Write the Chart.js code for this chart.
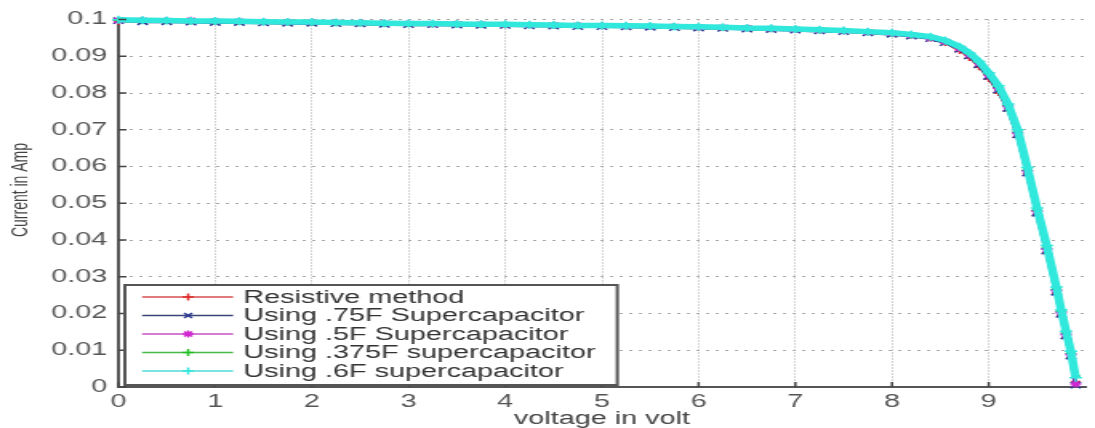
<!DOCTYPE html>
<html>
<head>
<meta charset="utf-8">
<script src="https://cdn.jsdelivr.net/npm/chart.js@4/dist/chart.umd.min.js"></script>
<style>
html,body{margin:0;padding:0;background:#fff;overflow:hidden;}
</style>
</head>
<body>
<canvas id="c" width="684" height="428" style="display:block;width:1095px;height:428px;"></canvas>
<script>
// ---- data ----
const voltage = [0, 0.25, 0.5, 0.75, 1, 1.25, 1.5, 1.75, 2, 2.25, 2.5, 2.75, 3, 3.25, 3.5, 3.75, 4, 4.25, 4.5, 4.75, 5, 5.25, 5.5, 5.75, 6, 6.25, 6.5, 6.75, 7, 7.25, 7.5, 7.75, 8, 8.2, 8.4, 8.55, 8.7, 8.8, 8.9, 9.0, 9.1, 9.2, 9.3, 9.4, 9.5, 9.6, 9.7, 9.75, 9.8, 9.85, 9.9];
const resistive = [0.0993, 0.0997, 0.0996, 0.0995, 0.0995, 0.0994, 0.0993, 0.0992, 0.0992, 0.0991, 0.0990, 0.0989, 0.0988, 0.0988, 0.0987, 0.0986, 0.0986, 0.0985, 0.0984, 0.0983, 0.0983, 0.0982, 0.0981, 0.0980, 0.0979, 0.0978, 0.0976, 0.0975, 0.0973, 0.0971, 0.0969, 0.0966, 0.0962, 0.0956, 0.0948, 0.0936, 0.0914, 0.0895, 0.0870, 0.0838, 0.0800, 0.0752, 0.0680, 0.0580, 0.0470, 0.0365, 0.0255, 0.0195, 0.0135, 0.0080, 0.0015];
const cap075 = [0.0997, 0.0994, 0.0994, 0.0993, 0.0992, 0.0992, 0.0991, 0.0990, 0.0990, 0.0989, 0.0988, 0.0987, 0.0986, 0.0986, 0.0985, 0.0984, 0.0984, 0.0983, 0.0982, 0.0981, 0.0981, 0.0980, 0.0979, 0.0978, 0.0977, 0.0976, 0.0974, 0.0973, 0.0971, 0.0969, 0.0967, 0.0964, 0.0960, 0.0955, 0.0948, 0.0937, 0.0919, 0.0901, 0.0877, 0.0845, 0.0808, 0.0758, 0.0686, 0.0582, 0.0473, 0.0370, 0.0258, 0.0198, 0.0139, 0.0084, 0.0005];
const cap05 = [0.0997, 0.0998, 0.0997, 0.0998, 0.0996, 0.0995, 0.0994, 0.0993, 0.0993, 0.0992, 0.0991, 0.0990, 0.0989, 0.0988, 0.0988, 0.0987, 0.0986, 0.0985, 0.0985, 0.0984, 0.0983, 0.0982, 0.0981, 0.0981, 0.0979, 0.0978, 0.0977, 0.0975, 0.0973, 0.0971, 0.0969, 0.0966, 0.0962, 0.0957, 0.0950, 0.0940, 0.0922, 0.0904, 0.0881, 0.0849, 0.0813, 0.0763, 0.0690, 0.0588, 0.0478, 0.0375, 0.0262, 0.0202, 0.0142, 0.0088, 0.0008];
const cap0375 = [0.0998, 0.0997, 0.0996, 0.0995, 0.0995, 0.0994, 0.0993, 0.0992, 0.0991, 0.0991, 0.0990, 0.0989, 0.0988, 0.0987, 0.0987, 0.0986, 0.0985, 0.0985, 0.0984, 0.0983, 0.0982, 0.0982, 0.0981, 0.0980, 0.0979, 0.0977, 0.0976, 0.0974, 0.0972, 0.0971, 0.0969, 0.0966, 0.0962, 0.0957, 0.0951, 0.0941, 0.0923, 0.0906, 0.0883, 0.0852, 0.0817, 0.0767, 0.0696, 0.0592, 0.0482, 0.0380, 0.0268, 0.0206, 0.0148, 0.0093, 0.0030];
const cap06 = [0.0999, 0.0998, 0.0997, 0.0996, 0.0996, 0.0995, 0.0994, 0.0993, 0.0993, 0.0992, 0.0991, 0.0990, 0.0989, 0.0989, 0.0988, 0.0987, 0.0987, 0.0986, 0.0985, 0.0984, 0.0984, 0.0983, 0.0982, 0.0981, 0.0980, 0.0979, 0.0977, 0.0976, 0.0974, 0.0972, 0.0970, 0.0967, 0.0964, 0.0959, 0.0953, 0.0943, 0.0926, 0.0909, 0.0886, 0.0855, 0.0820, 0.0770, 0.0700, 0.0597, 0.0487, 0.0385, 0.0272, 0.0210, 0.0152, 0.0097, 0.0025];
const seriesLabels = ['Resistive method', 'Using .75F Supercapacitor', 'Using .5F Supercapacitor', 'Using .375F supercapacitor', 'Using .6F supercapacitor'];
const xTickValues = [0, 1, 2, 3, 4, 5, 6, 7, 8, 9];
const yTickValues = [0, 0.01, 0.02, 0.03, 0.04, 0.05, 0.06, 0.07, 0.08, 0.09, 0.1];
const xTitle = 'voltage in volt';
const yTitle = 'Current in Amp';

// ---- styling ----
const seriesValues = [resistive, cap075, cap05, cap0375, cap06];
const colors = ['#e02828', '#2b3990', '#d028d0', '#22c022', '#30e8dc'];
const legendColors = ['#d85050', '#3a4478', '#c850c8', '#48b848', '#50d8d8'];
const styles = ['cross', 'crossRot', 'star', 'cross', 'cross'];
const widths = [1.5, 3, 2, 2, 5.5];
const radii = [3, 4.5, 3.5, 3, 4];
const FONT = "'Liberation Sans', Arial, sans-serif";

const datasets = seriesValues.map((vals, k) => ({
  label: seriesLabels[k],
  data: voltage.map((v, i) => ({x: v, y: vals[i]})),
  borderColor: colors[k],
  backgroundColor: colors[k],
  borderWidth: widths[k],
  pointStyle: styles[k],
  pointRadius: radii[k],
  pointBorderWidth: 1.5,
  pointHoverRadius: radii[k],
  order: 4 - k,
  tension: 0,
  clip: 8
}));

const innerTicks = {
  id: 'innerTicks',
  afterDraw(chart) {
    const {ctx, chartArea: a, scales: {x, y}} = chart;
    ctx.save();
    ctx.strokeStyle = '#444';
    ctx.lineWidth = 1.5;
    ctx.beginPath();
    xTickValues.forEach(v => { const px = x.getPixelForValue(v); ctx.moveTo(px, a.bottom); ctx.lineTo(px, a.bottom - 5); });
    yTickValues.forEach(v => { const py = y.getPixelForValue(v); ctx.moveTo(a.left, py); ctx.lineTo(a.left + 5, py); });
    ctx.stroke();
    // y-axis title (rotated)
    ctx.fillStyle = '#444';
    ctx.font = '14px ' + FONT;
    ctx.textAlign = 'center';
    ctx.textBaseline = 'middle';
    ctx.translate(13, 190);
    ctx.rotate(-Math.PI / 2);
    ctx.fillText(yTitle, 0, 0);
    ctx.restore();
  }
};

const boxLegend = {
  id: 'boxLegend',
  afterDraw(chart) {
    const ctx = chart.ctx;
    const L = 78, R = 385.6, T = 285, B = 385;
    ctx.save();
    ctx.fillStyle = '#fff';
    ctx.fillRect(L, T, R - L, B - T);
    ctx.strokeStyle = '#555';
    ctx.lineWidth = 2;
    ctx.strokeRect(L, T, R - L, B - T);
    const rows = [297, 315.5, 334, 352.5, 371];
    ctx.font = '18px ' + FONT;
    ctx.textBaseline = 'middle';
    ctx.textAlign = 'left';
    chart.data.datasets.forEach((ds, i) => {
      const yy = rows[i];
      ctx.strokeStyle = legendColors[i];
      ctx.lineWidth = 1.5;
      ctx.beginPath(); ctx.moveTo(88.75, yy); ctx.lineTo(145.6, yy); ctx.stroke();
      ctx.fillStyle = ds.borderColor;
      ctx.strokeStyle = ds.borderColor;
      ctx.lineWidth = 1.5;
      Chart.helpers.drawPoint(ctx, {pointStyle: ds.pointStyle, radius: 3.5, rotation: 0, borderWidth: 1.5}, 117.5, yy);
      ctx.fillStyle = '#333';
      ctx.fillText(ds.label, 152, yy + 1);
    });
    ctx.restore();
  }
};

new Chart(document.getElementById('c'), {
  type: 'line',
  data: {datasets},
  plugins: [innerTicks, boxLegend],
  options: {
    responsive: false,
    devicePixelRatio: 1,
    animation: false,
    layout: {padding: {top: 19.5, right: 2, left: 0, bottom: 0}},
    plugins: {legend: {display: false}, tooltip: {enabled: false}},
    scales: {
      x: {
        type: 'linear', min: 0, max: 10,
        afterBuildTicks: s => { s.ticks = xTickValues.map(v => ({value: v})); },
        afterFit: s => { s.height = 41; },
        ticks: {autoSkip: false, padding: 4, color: '#555', font: {family: FONT, size: 18}, callback: v => String(v)},
        grid: {color: '#a8a8a8', lineWidth: 1, drawTicks: false},
        border: {display: true, color: '#555', width: 2, dash: [1, 2]},
        title: {display: true, text: xTitle, color: '#444', font: {family: FONT, size: 18}, padding: {top: 0, bottom: -2}}
      },
      y: {
        type: 'linear', min: 0, max: 0.1,
        afterBuildTicks: s => { s.ticks = yTickValues.map(v => ({value: v})); },
        afterFit: s => { s.width = 74; },
        ticks: {autoSkip: false, padding: 7, color: '#555', font: {family: FONT, size: 18}, callback: v => String(+v.toFixed(2))},
        grid: {color: '#a8a8a8', lineWidth: 1, drawTicks: false},
        border: {display: true, color: '#555', width: 2, dash: [2, 4]},
        title: {display: false, text: yTitle}
      }
    }
  }
});
</script>
</body>
</html>
